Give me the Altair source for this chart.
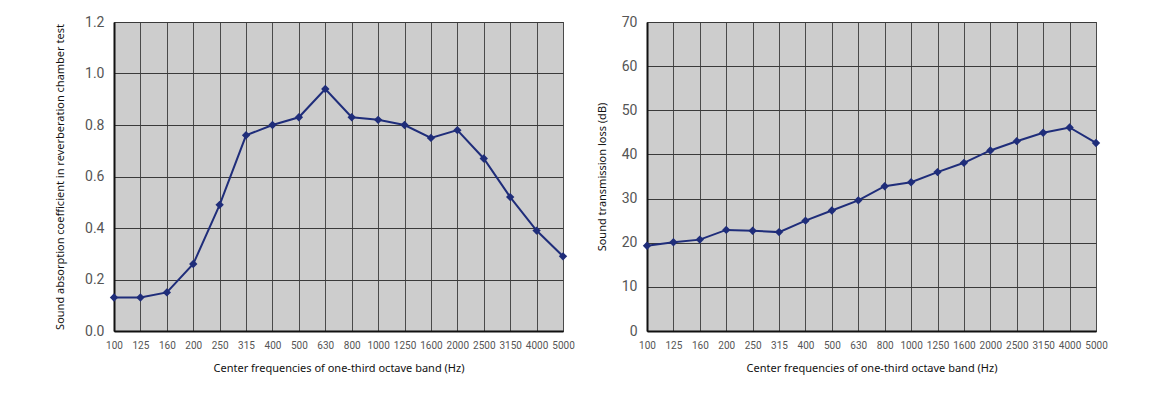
import altair as alt
import pandas as pd

freqs = ["100", "125", "160", "200", "250", "315", "400", "500", "630", "800",
         "1000", "1250", "1600", "2000", "2500", "3150", "4000", "5000"]
absorption = [0.13, 0.13, 0.15, 0.26, 0.49, 0.76, 0.80, 0.83, 0.94, 0.83,
              0.82, 0.80, 0.75, 0.78, 0.67, 0.52, 0.39, 0.29]
transmission = [19.3, 20.1, 20.7, 22.9, 22.7, 22.4, 25.0, 27.3, 29.6, 32.8,
                33.7, 36.0, 38.1, 40.9, 43.0, 44.9, 46.1, 42.6]
abs_ticks = [0.0, 0.2, 0.4, 0.6, 0.8, 1.0, 1.2]
tl_ticks = [0, 10, 20, 30, 40, 50, 60, 70]

x_title = "Center frequencies of one-third octave band (Hz)"
LINE = "#1f2d7a"
FONT = "Noto Sans"
LABFONT = "Roboto"

df1 = pd.DataFrame({"f": freqs, "v": absorption})
df2 = pd.DataFrame({"f": freqs, "v": transmission})


def make_panel(df, ticks, dom, ytitle, fmt, tpad):
    x = alt.X("f:N", sort=freqs, title=x_title,
              scale=alt.Scale(type="point", padding=0),
              axis=alt.Axis(labelAngle=0, labelFont=LABFONT, labelFontSize=10,
                            labelColor="#555555", labelPadding=9, ticks=False,
                            grid=True, gridColor="#4a4a4a", gridWidth=1,
                            domainColor="#111111", domainWidth=2,
                            titleFont=FONT, titleFontSize=11, titleFontWeight="normal",
                            titleColor="#111111", titlePadding=12))
    y = alt.Y("v:Q", title=ytitle,
              scale=alt.Scale(domain=dom, nice=False, zero=True),
              axis=alt.Axis(values=ticks, format=fmt, labelFont=LABFONT, labelFontSize=14,
                            labelColor="#555555", labelPadding=10, ticks=False,
                            grid=True, gridColor="#3a3a3a", gridWidth=1,
                            domainColor="#111111", domainWidth=2,
                            titleFont=FONT, titleFontSize=11, titleFontWeight="normal",
                            titleColor="#111111", titlePadding=tpad))
    line = alt.Chart(df).mark_line(color=LINE, strokeWidth=2).encode(x=x, y=y)
    pts = alt.Chart(df).mark_point(shape="diamond", filled=True, color=LINE,
                                   size=70, opacity=1).encode(x=x, y=y)
    return (line + pts).properties(width=449, height=309)


left = make_panel(df1, abs_ticks, [0, 1.2],
                  "Sound absorption coefficient in reverberation chamber test", ".1f", 19)
right = make_panel(df2, tl_ticks, [0, 70], "Sound transmission loss (dB)", "d", 14)

chart = alt.hconcat(left, right, spacing=20).properties(
    padding={"left": 46, "top": 6, "right": 5, "bottom": 5}
).configure_view(fill="#cdcdcd", stroke="#333333", strokeWidth=1)

chart.save("out.html", embed_options={"renderer": "svg", "actions": False})
